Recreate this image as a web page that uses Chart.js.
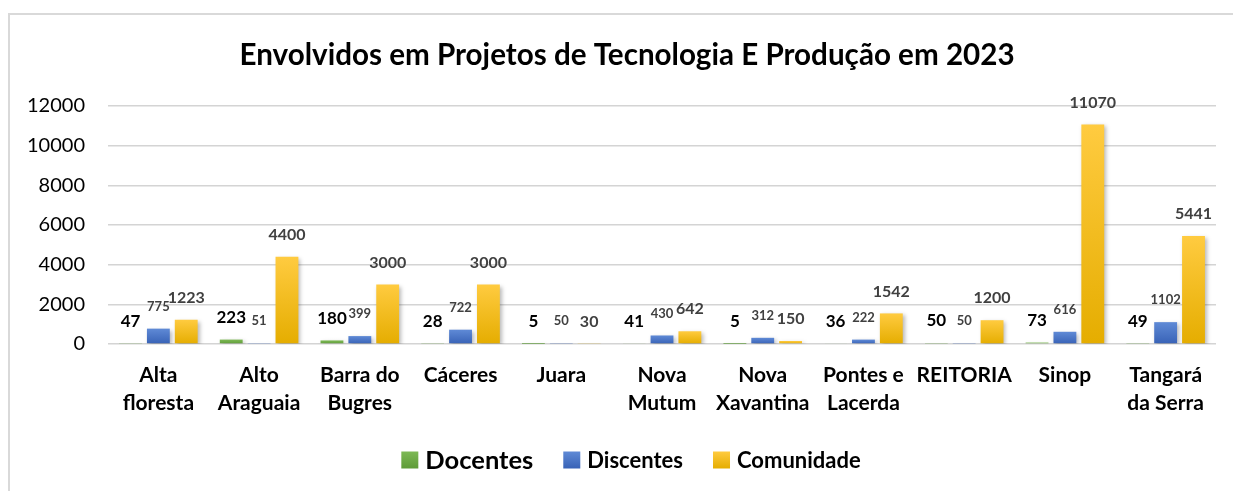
<!DOCTYPE html>
<html>
<head>
<meta charset="utf-8">
<script src="https://cdn.jsdelivr.net/npm/chart.js@4.4.1/dist/chart.umd.min.js"></script>
<style>
  html, body { margin: 0; padding: 0; background: #fff; }
  canvas { display: block; }
</style>
</head>
<body>
<canvas id="chart" width="1233" height="491"></canvas>
<script>
// data
const categories = [
    ['Alta', 'floresta'], ['Alto', 'Araguaia'], ['Barra do', 'Bugres'], 'Cáceres', 'Juara',
    ['Nova', 'Mutum'], ['Nova', 'Xavantina'], ['Pontes e', 'Lacerda'], 'REITORIA', 'Sinop', ['Tangará', 'da Serra']
];
const docentes   = [47, 223, 180, 28, 5, 41, 5, 36, 50, 73, 49];
const discentes  = [775, 51, 399, 722, 50, 430, 312, 222, 50, 616, 1102];
const comunidade = [1223, 4400, 3000, 3000, 30, 642, 150, 1542, 1200, 11070, 5441];
const yMax = 12000;
const yStep = 2000;
const chartTitle = 'Envolvidos em Projetos de Tecnologia E Produção em 2023';

const FONT = 'Lato, "Open Sans", sans-serif';

// top / bottom colours of each bar gradient
const gradients = {
    Docentes:   ['#7DB955', '#5E9B38'],
    Discentes:  ['#5F8AD6', '#3862B6'],
    Comunidade: ['#FFCB40', '#E5AD00']
};

// label styles per series (Excel kept a different font for each)
const labelStyles = {
    Docentes:   { font: 'bold 17px ' + FONT, color: '#000000' },
    Discentes:  { font: 'bold 13px ' + FONT, color: '#404040' },
    Comunidade: { font: 'bold 16px ' + FONT, color: '#404040' }
};

function barGradient(name) {
    return function(ctx) {
        const chart = ctx.chart;
        if (!chart.chartArea || ctx.type !== 'data') return gradients[name][0];
        const y = chart.scales.y;
        const top = y.getPixelForValue(ctx.raw);
        const base = y.getPixelForValue(0);
        if (base - top < 1) return gradients[name][1];
        const g = chart.ctx.createLinearGradient(0, top, 0, base);
        g.addColorStop(0, gradients[name][0]);
        g.addColorStop(1, gradients[name][1]);
        return g;
    };
}

// chart frame + title (title is centred on the frame, not on the canvas)
const framePlugin = {
    id: 'frame',
    beforeDraw(chart) {
        const ctx = chart.ctx;
        ctx.save();
        ctx.fillStyle = '#fff';
        ctx.fillRect(0, 0, chart.width, chart.height);
        ctx.strokeStyle = '#D9D9D9';
        ctx.lineWidth = 2;
        ctx.beginPath();
        ctx.moveTo(9, chart.height + 5);
        ctx.lineTo(9, 14);
        ctx.lineTo(chart.width + 5, 14);
        ctx.stroke();

        ctx.font = 'bold 29.6px ' + FONT;
        ctx.fillStyle = '#000';
        ctx.textAlign = 'center';
        ctx.textBaseline = 'middle';
        ctx.fillText(chartTitle, 627, 55);
        ctx.restore();
    }
};

const shadowAndLabels = {
    id: 'shadowAndLabels',
    beforeDatasetsDraw(chart) {
        const ctx = chart.ctx;
        ctx.save();
        ctx.shadowColor = 'rgba(0,0,0,0.28)';
        ctx.shadowBlur = 4;
        ctx.shadowOffsetX = 2;
        ctx.shadowOffsetY = 2;
    },
    afterDatasetsDraw(chart) {
        const ctx = chart.ctx;
        ctx.restore();
        ctx.save();
        ctx.textAlign = 'center';
        ctx.textBaseline = 'middle';
        chart.data.datasets.forEach((ds, i) => {
            const style = labelStyles[ds.label];
            ctx.font = style.font;
            ctx.fillStyle = style.color;
            chart.getDatasetMeta(i).data.forEach((bar, j) => {
                ctx.fillText(String(ds.data[j]), bar.x, bar.y - 22);
            });
        });
        ctx.restore();
    }
};

// legend drawn by hand because "Docentes" uses a bigger font than the others
const legendPlugin = {
    id: 'customLegend',
    afterDraw(chart) {
        const ctx = chart.ctx;
        const items = [
            { text: 'Docentes',   font: 'bold 25.5px ' + FONT },
            { text: 'Discentes',  font: 'bold 22px ' + FONT },
            { text: 'Comunidade', font: 'bold 22px ' + FONT }
        ];
        const box = 17, boxGap = 7, itemGap = 30, cy = 460, cx = 631;
        ctx.save();
        let total = 0;
        items.forEach((it, k) => {
            ctx.font = it.font;
            it.w = ctx.measureText(it.text).width;
            total += box + boxGap + it.w + (k < items.length - 1 ? itemGap : 0);
        });
        let x = cx - total / 2;
        ctx.textBaseline = 'middle';
        ctx.textAlign = 'left';
        items.forEach((it, k) => {
            const name = chart.data.datasets[k].label;
            const g = ctx.createLinearGradient(0, cy - box / 2, 0, cy + box / 2);
            g.addColorStop(0, gradients[name][0]);
            g.addColorStop(1, gradients[name][1]);
            ctx.fillStyle = g;
            ctx.fillRect(x, cy - box / 2, box, box);
            x += box + boxGap;
            ctx.font = it.font;
            ctx.fillStyle = '#000';
            ctx.fillText(it.text, x, cy + 1);
            x += it.w + itemGap;
        });
        ctx.restore();
    }
};

new Chart(document.getElementById('chart'), {
    type: 'bar',
    data: {
        labels: categories,
        datasets: [
            { label: 'Docentes',   data: docentes,   backgroundColor: barGradient('Docentes') },
            { label: 'Discentes',  data: discentes,  backgroundColor: barGradient('Discentes') },
            { label: 'Comunidade', data: comunidade, backgroundColor: barGradient('Comunidade') }
        ]
    },
    options: {
        responsive: false,
        animation: false,
        devicePixelRatio: 1,
        datasets: {
            bar: { categoryPercentage: 0.83, barPercentage: 0.82 }
        },
        layout: { padding: { left: 0, right: 17, top: 106, bottom: 73 } },
        scales: {
            x: {
                grid: { display: false, drawTicks: false },
                border: { display: false },
                ticks: {
                    padding: 17,
                    color: '#000',
                    maxRotation: 0,
                    minRotation: 0,
                    autoSkip: false,
                    font: { family: FONT, size: 21, weight: 'bold', lineHeight: 1.35 }
                },
                afterFit(scale) { scale.height = 74; }
            },
            y: {
                min: 0,
                max: yMax,
                ticks: {
                    stepSize: yStep,
                    padding: 23,
                    color: '#000',
                    font: { family: FONT, size: 20 },
                    callback: (v) => String(v)
                },
                grid: { color: '#D4D4D4', lineWidth: 1.5, drawTicks: false },
                border: { display: false },
                afterFit(scale) { scale.width = 108; }
            }
        },
        plugins: {
            legend: { display: false },
            tooltip: { enabled: false },
            title: { display: false }
        }
    },
    plugins: [framePlugin, shadowAndLabels, legendPlugin]
});
</script>
</body>
</html>
